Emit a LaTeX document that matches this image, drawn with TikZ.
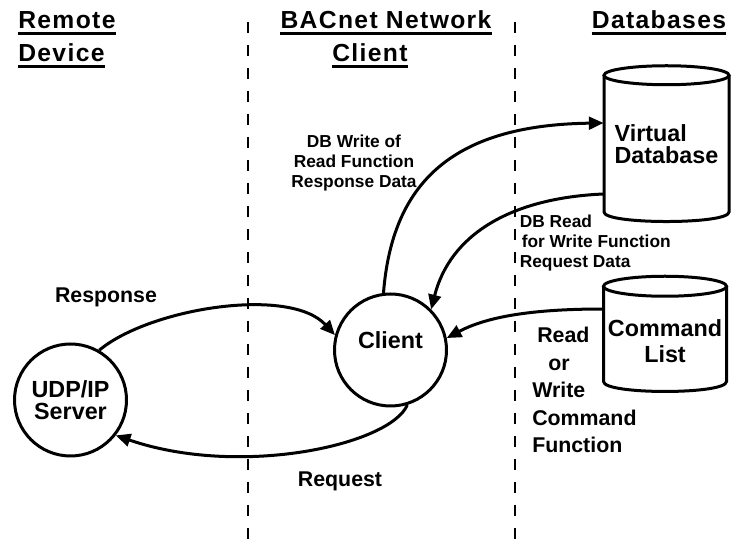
\documentclass[tikz,border=0pt]{standalone}
\usepackage{fontspec}
\setmainfont{Liberation Sans}
\newfontfamily\titlefont[LetterSpace=5.5]{Liberation Sans}
\usetikzlibrary{arrows.meta,calc}
\begin{document}
\begin{tikzpicture}[x=0.75pt,y=-0.75pt,
  every node/.style={inner sep=0pt},
  titletxt/.style={font=\titlefont\bfseries\fontsize{18.5pt}{21pt}\selectfont, anchor=base},
  uline/.style={line width=2.25pt},
  dashline/.style={line width=2pt, dash pattern=on 8.5pt off 8.75pt},
  bubble/.style={circle, draw, line width=2.25pt, minimum size=84pt, align=center,
    font=\bfseries\fontsize{17.5pt}{16pt}\selectfont},
  dbtext/.style={font=\bfseries\fontsize{17.5pt}{16.5pt}\selectfont},
  cyl/.style={line width=2.25pt},
  conn/.style={line width=2.25pt, -{Triangle[length=11pt,width=9.5pt]}},
  lblsmall/.style={font=\bfseries\fontsize{13pt}{15pt}\selectfont},
  lblbig/.style={font=\bfseries\fontsize{16pt}{20.6pt}\selectfont}
]
\useasboundingbox (0,0) rectangle (733,541);

% titles
\node[titletxt, anchor=base west] (tRemote) at (18,29) {Remote};
\node[titletxt, anchor=base west] (tDevice) at (18,62) {Device};
\node[titletxt] (tBAC) at (386,29) {BACnet Network};
\node[titletxt] (tClient) at (370,62) {Client};
\node[titletxt] (tDB) at (659,29) {Databases};
\foreach \t in {tRemote,tDevice,tBAC,tClient,tDB}
  \draw[uline] ([yshift=-3.5pt]\t.base west) -- ([yshift=-3.5pt]\t.base east);

% dashed separators
\coordinate (d1t) at (248,22); \coordinate (d1b) at (248,541);
\coordinate (d2t) at (515,22); \coordinate (d2b) at (515,541);
\draw[dashline] (d1t) -- (d1b);
\draw[dashline] (d2t) -- (d2b);

% circles
\node[bubble] (udp) at (70.5,400) {\raisebox{-3pt}{UDP/IP}\\\raisebox{-3pt}{Server}};
\node[bubble] (client) at (390.5,350) {\raisebox{15pt}{Client}};

% cylinders
\draw[cyl] (604,75.25) -- (604,212) .. controls (604,224.7) and (729,224.7) .. (729,212) -- (729,75.25);
\draw[cyl] (666.5,75.25) ellipse [x radius=62.5, y radius=9.5];
\node[dbtext, align=left, minimum width=94pt] (vdb) at (666.5,144) {Virtual\\Database};

\draw[cyl] (603.5,286.25) -- (603.5,381.5) .. controls (603.5,394.8) and (726.5,394.8) .. (726.5,381.5) -- (726.5,286.25);
\draw[cyl] (665,286.25) ellipse [x radius=61.5, y radius=10];
\node[dbtext, align=center, minimum width=92.25pt, font=\bfseries\fontsize{17.5pt}{19.5pt}\selectfont] (cmd) at (665,341.5) {Command\\List};

% connectors
\draw[conn] (udp.60) .. controls (150,308) and (290,286) .. (client.165);
\draw[conn] (client.-73) .. controls (390,445) and (240,478) .. (udp.-38);
\draw[conn] (client.97) .. controls (392,185) and (450,125) .. ($(vdb.west)+(0,-21)$);
\draw[conn] ($(vdb.west)+(0,50)$) .. controls (510,198) and (450,235) .. (client.45);
\draw[conn] ($(cmd.west)+(0,-32.5)$) .. controls (540,309) and (490,315) .. (client.12);

% labels
\node[lblsmall, align=center] (lw) at (354,163) {DB Write of\\Read Function\\Response Data};
\node[lblsmall, align=left, anchor=west] (lr) at (519.5,243) {DB Read\\\hspace*{1.5pt}for Write Function\\Request Data};
\node[lblbig] (lresp) at (106,297.5) {Response};
\node[lblbig] (lreq) at (340,481.5) {Request};
\node[lblbig, align=left, anchor=west] (lrw) at (532,390) {\hspace*{3.75pt}Read\\\hspace*{12pt}or\\Write\\Command\\Function};
\end{tikzpicture}
\end{document}
